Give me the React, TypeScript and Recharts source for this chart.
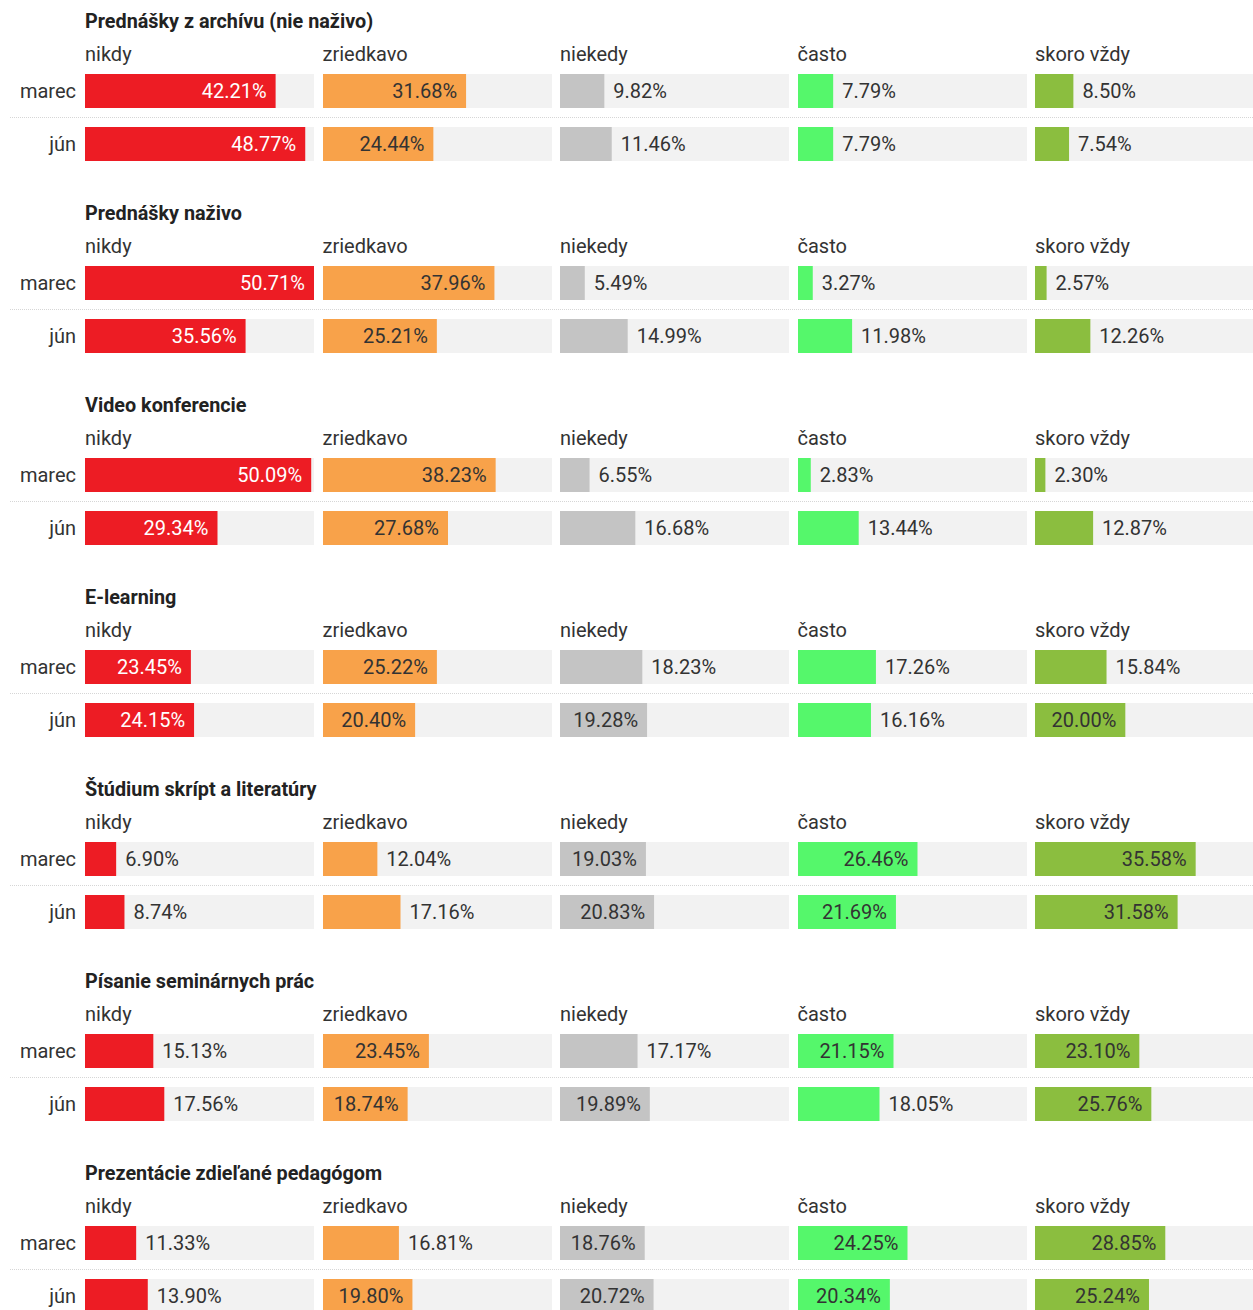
import React from 'react';
import { BarChart, Bar, XAxis, YAxis } from 'recharts';

const answers = ['nikdy', 'zriedkavo', 'niekedy', 'často', 'skoro vždy'];
const rowLabels = ['marec', 'jún'];
const groupTitles = [
  'Prednášky z archívu (nie naživo)',
  'Prednášky naživo',
  'Video konferencie',
  'E-learning',
  'Štúdium skrípt a literatúry',
  'Písanie seminárnych prác',
  'Prezentácie zdieľané pedagógom',
];

const archivMarec = [42.21, 31.68, 9.82, 7.79, 8.5];
const archivJun = [48.77, 24.44, 11.46, 7.79, 7.54];
const nazivoMarec = [50.71, 37.96, 5.49, 3.27, 2.57];
const nazivoJun = [35.56, 25.21, 14.99, 11.98, 12.26];
const videoMarec = [50.09, 38.23, 6.55, 2.83, 2.3];
const videoJun = [29.34, 27.68, 16.68, 13.44, 12.87];
const elearningMarec = [23.45, 25.22, 18.23, 17.26, 15.84];
const elearningJun = [24.15, 20.4, 19.28, 16.16, 20.0];
const skriptaMarec = [6.9, 12.04, 19.03, 26.46, 35.58];
const skriptaJun = [8.74, 17.16, 20.83, 21.69, 31.58];
const seminarneMarec = [15.13, 23.45, 17.17, 21.15, 23.1];
const seminarneJun = [17.56, 18.74, 19.89, 18.05, 25.76];
const prezentacieMarec = [11.33, 16.81, 18.76, 24.25, 28.85];
const prezentacieJun = [13.9, 19.8, 20.72, 20.34, 25.24];

const groupValues = [
  [archivMarec, archivJun],
  [nazivoMarec, nazivoJun],
  [videoMarec, videoJun],
  [elearningMarec, elearningJun],
  [skriptaMarec, skriptaJun],
  [seminarneMarec, seminarneJun],
  [prezentacieMarec, prezentacieJun],
];

const colors = ['#ed1c24', '#f8a24a', '#c4c4c4', '#55f76b', '#8bbe3f'];
const insideTextColors = ['#ffffff', '#333333', '#333333', '#333333', '#333333'];
const MAX = 50.71;
const FONT = 'Roboto, sans-serif';

const COL_X = [85, 322.5, 560, 797.5, 1035];
const COL_W = 229;
const GROUP_PITCH = 192;

function makeLabel(col: number) {
  return (props: any) => {
    const { x, y, width, height, value } = props;
    const txt = Number(value).toFixed(2) + '%';
    const inside = width >= 83.5;
    const cy = y + height / 2;
    if (inside) {
      return (
        <text x={x + width - 9} y={cy} textAnchor="end" dominantBaseline="central"
          fill={insideTextColors[col]} fontSize={20} fontFamily={FONT}>{txt}</text>
      );
    }
    return (
      <text x={x + width + 9} y={cy} textAnchor="start" dominantBaseline="central"
        fill="#333333" fontSize={20} fontFamily={FONT}>{txt}</text>
    );
  };
}

function Cell2({ g, c }: { g: number; c: number }) {
  const data = rowLabels.map((r, i) => ({ row: r, v: groupValues[g][i][c] }));
  return (
    <BarChart width={COL_W} height={106} data={data} layout="vertical"
      margin={{ top: 0, right: 0, bottom: 0, left: 0 }} barCategoryGap={19}>
      <XAxis type="number" domain={[0, MAX]} hide allowDataOverflow />
      <YAxis type="category" dataKey="row" hide width={0} />
      <Bar dataKey="v" fill={colors[c]} barSize={34} isAnimationActive={false}
        background={{ fill: '#f2f2f2' }} label={makeLabel(c)} />
    </BarChart>
  );
}

export default function App() {
  return (
    <div style={{ position: 'absolute', left: 0, top: 0, width: 1253, height: 1310, overflow: 'hidden', background: '#fff', fontFamily: FONT, color: '#333' }}>
      {groupTitles.map((title, g) => {
        const off = g * GROUP_PITCH;
        return (
          <React.Fragment key={g}>
            <div style={{ position: 'absolute', left: 85, top: off + 22 - 12, lineHeight: '24px', fontSize: 19.8, fontWeight: 700, color: '#222', whiteSpace: 'nowrap' }}>{title}</div>
            {answers.map((a, c) => (
              <div key={'h' + c} style={{ position: 'absolute', left: COL_X[c], top: off + 54 - 12, lineHeight: '24px', fontSize: 20, color: '#333', whiteSpace: 'nowrap' }}>{a}</div>
            ))}
            {rowLabels.map((r, i) => (
              <div key={'r' + i} style={{ position: 'absolute', right: 1253 - 76, top: off + 91 + i * 52.7 - 12, lineHeight: '24px', fontSize: 20, color: '#333', whiteSpace: 'nowrap', textAlign: 'right' }}>{r}</div>
            ))}
            <div style={{ position: 'absolute', left: 10, width: 1243, top: off + 117, height: 0, borderTop: '1px dotted #d6d6d6' }} />
            {answers.map((a, c) => (
              <div key={'c' + c} style={{ position: 'absolute', left: COL_X[c], top: off + 64 }}>
                <Cell2 g={g} c={c} />
              </div>
            ))}
          </React.Fragment>
        );
      })}
    </div>
  );
}
